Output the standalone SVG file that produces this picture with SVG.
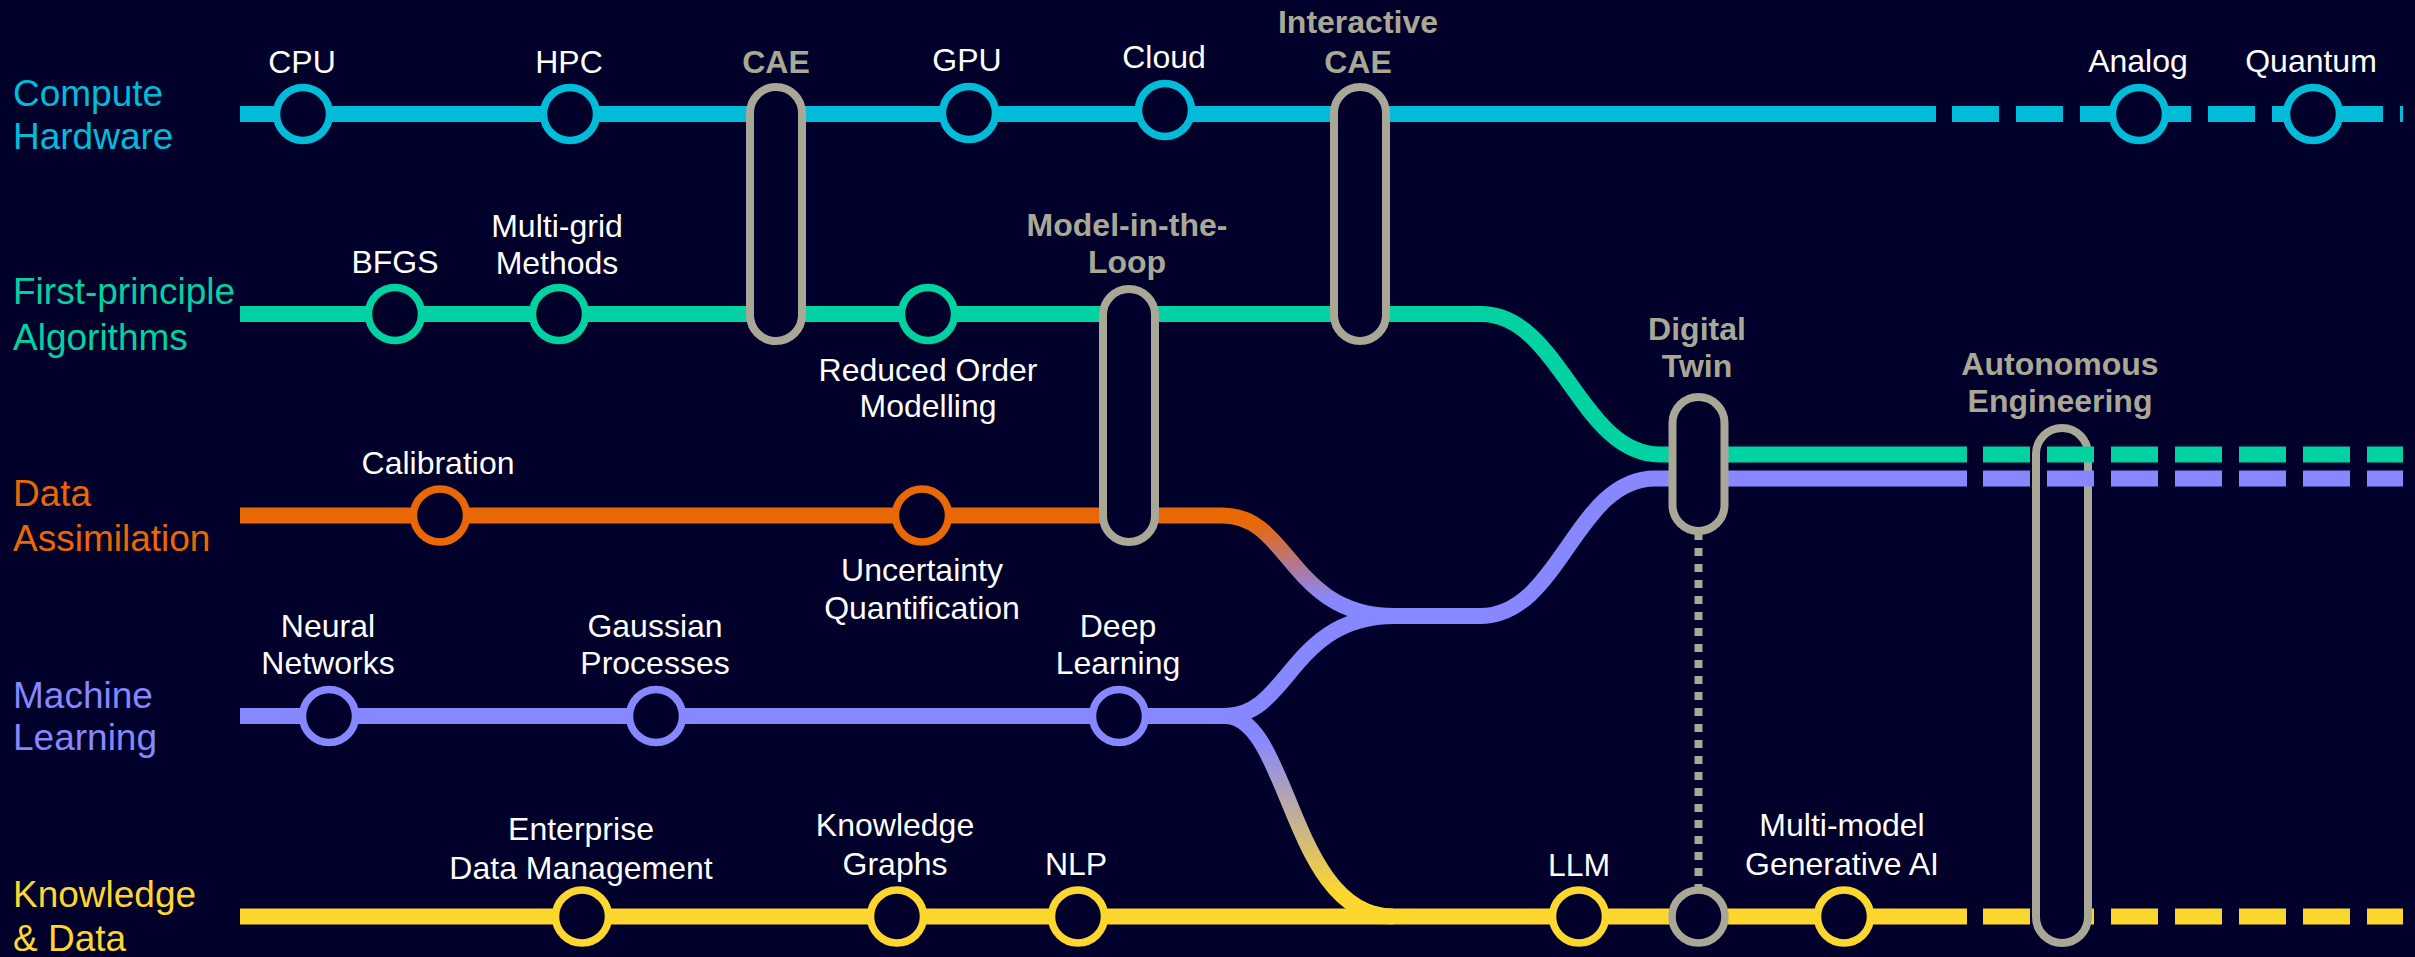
<svg xmlns="http://www.w3.org/2000/svg" width="2415" height="957" viewBox="0 0 2415 957">
  <defs>
    <!-- Data Assimilation merging into Machine Learning -->
    <linearGradient id="gradOrangePurple" gradientUnits="userSpaceOnUse" x1="0" y1="522" x2="0" y2="600">
      <stop offset="0" stop-color="#EA6705"/>
      <stop offset="1" stop-color="#8787FF"/>
    </linearGradient>
    <!-- Machine Learning branching into Knowledge & Data -->
    <linearGradient id="gradPurpleYellow" gradientUnits="userSpaceOnUse" x1="0" y1="740" x2="0" y2="895">
      <stop offset="0" stop-color="#8787FF"/>
      <stop offset="1" stop-color="#FDD72E"/>
    </linearGradient>
    <style>
      .track { fill: none; stroke-width: 16; }
      .future { stroke-dasharray: 47 17; }
      .cyan { stroke: #00BCD9; }
      .green { stroke: #00D3A1; }
      .orange { stroke: #EA6705; }
      .purple { stroke: #8787FF; }
      .yellow { stroke: #FDD72E; }
      .stop { fill: #00002A; stroke-width: 7.5; }
      .hub { fill: #00002A; stroke: #A9A896; stroke-width: 8; }
      .link { fill: none; stroke: #A9A896; stroke-width: 8; stroke-dasharray: 8 8; }
      text { font-family: "Liberation Sans", Arial, sans-serif; }
      .title { font-size: 37px; }
      .lbl { font-size: 32px; fill: #FFFFFF; text-anchor: middle; }
      .hubl { font-size: 32px; font-weight: bold; fill: #A9A896; text-anchor: middle; }
    </style>
  </defs>

  <rect x="0" y="0" width="2415" height="957" fill="#00002A"/>

  <!-- track titles -->
  <g id="titles">
    <text class="title" x="13" y="106" fill="#00BCD9">Compute<tspan x="13" y="149">Hardware</tspan></text>
    <text class="title" x="13" y="304" fill="#00D3A1">First-principle<tspan x="13" y="350">Algorithms</tspan></text>
    <text class="title" x="13" y="506" fill="#EA6705">Data<tspan x="13" y="551">Assimilation</tspan></text>
    <text class="title" x="13" y="708" fill="#8787FF">Machine<tspan x="13" y="750">Learning</tspan></text>
    <text class="title" x="13" y="907" fill="#FDD72E">Knowledge<tspan x="13" y="951">&amp; Data</tspan></text>
  </g>

  <!-- tracks -->
  <g id="connectors">
    <path class="track cyan" d="M240,114 H1936"/>
    <path class="track cyan future" d="M1952,114 H2403"/>
    <path class="track green" d="M240,314 H1481 C1560,314 1580,454.5 1660,454.5 H1967"/>
    <path class="track" stroke="url(#gradOrangePurple)" d="M240,515.5 H1223 C1290,515.5 1290,616 1395,616"/>
    <path class="track purple" d="M240,716 H1225 C1290,716 1290,616 1395,616 H1480 C1560,616 1575,478.5 1655,478.5 H1967"/>
    <path class="track" stroke="url(#gradPurpleYellow)" d="M1225,716 C1290,716 1290,916.5 1393,916.5"/>
    <path class="track yellow" d="M240,916.5 H1967"/>
    <path class="track yellow future" d="M1983,916.5 H2403"/>
    <path class="link" d="M1698.5,532 V888"/>
  </g>

  <!-- Compute Hardware stops -->
  <g id="cpu"><circle class="stop cyan" cx="303" cy="114" r="26.5"/><text class="lbl" x="302" y="73">CPU</text></g>
  <g id="hpc"><circle class="stop cyan" cx="570" cy="114" r="26.5"/><text class="lbl" x="569" y="73">HPC</text></g>
  <g id="gpu"><circle class="stop cyan" cx="969" cy="113" r="26.5"/><text class="lbl" x="967" y="71">GPU</text></g>
  <g id="cloud"><circle class="stop cyan" cx="1165" cy="110" r="26.5"/><text class="lbl" x="1164" y="68">Cloud</text></g>
  <g id="analog"><circle class="stop cyan" cx="2139" cy="114" r="26.5"/><text class="lbl" x="2138" y="72">Analog</text></g>
  <g id="quantum"><circle class="stop cyan" cx="2313" cy="114" r="26.5"/><text class="lbl" x="2311" y="72">Quantum</text></g>

  <!-- First-principle Algorithms stops -->
  <g id="bfgs"><circle class="stop green" cx="395" cy="314" r="26.5"/><text class="lbl" x="395" y="273">BFGS</text></g>
  <g id="multigrid"><circle class="stop green" cx="559" cy="314" r="26.5"/><text class="lbl" x="557" y="237">Multi-grid<tspan x="557" y="274">Methods</tspan></text></g>
  <g id="rom"><circle class="stop green" cx="928" cy="314" r="26.5"/><text class="lbl" x="928" y="381">Reduced Order<tspan x="928" y="417">Modelling</tspan></text></g>

  <!-- Data Assimilation stops -->
  <g id="calibration"><circle class="stop orange" cx="440" cy="515.5" r="26.5"/><text class="lbl" x="438" y="474">Calibration</text></g>
  <g id="uq"><circle class="stop orange" cx="922" cy="515.5" r="26.5"/><text class="lbl" x="922" y="581">Uncertainty<tspan x="922" y="619">Quantification</tspan></text></g>

  <!-- Machine Learning stops -->
  <g id="nn"><circle class="stop purple" cx="329" cy="716" r="26.5"/><text class="lbl" x="328" y="637">Neural<tspan x="328" y="674">Networks</tspan></text></g>
  <g id="gp"><circle class="stop purple" cx="656" cy="716" r="26.5"/><text class="lbl" x="655" y="637">Gaussian<tspan x="655" y="674">Processes</tspan></text></g>
  <g id="dl"><circle class="stop purple" cx="1119" cy="716" r="26.5"/><text class="lbl" x="1118" y="637">Deep<tspan x="1118" y="674">Learning</tspan></text></g>

  <!-- Knowledge & Data stops -->
  <g id="edm"><circle class="stop yellow" cx="582" cy="916.5" r="26.5"/><text class="lbl" x="581" y="840">Enterprise<tspan x="581" y="879">Data Management</tspan></text></g>
  <g id="kg"><circle class="stop yellow" cx="897" cy="916.5" r="26.5"/><text class="lbl" x="895" y="836">Knowledge<tspan x="895" y="875">Graphs</tspan></text></g>
  <g id="nlp"><circle class="stop yellow" cx="1078" cy="916.5" r="26.5"/><text class="lbl" x="1076" y="875">NLP</text></g>
  <g id="llm"><circle class="stop yellow" cx="1579" cy="916.5" r="26.5"/><text class="lbl" x="1579" y="876">LLM</text></g>
  <g id="dt-stop"><circle class="stop" stroke="#A9A896" cx="1698.5" cy="916.5" r="26.5"/></g>
  <g id="genai"><circle class="stop yellow" cx="1844" cy="916.5" r="26.5"/><text class="lbl" x="1842" y="836">Multi-model<tspan x="1842" y="875">Generative AI</tspan></text></g>

  <!-- interchange hubs -->
  <g id="cae"><rect class="hub" x="750" y="87" width="52" height="254" rx="26"/><text class="hubl" x="776" y="73">CAE</text></g>
  <g id="interactive-cae"><rect class="hub" x="1334" y="87" width="52" height="254" rx="26"/><text class="hubl" x="1358" y="33">Interactive<tspan x="1358" y="73">CAE</tspan></text></g>
  <g id="model-in-the-loop"><rect class="hub" x="1103" y="289" width="52" height="253" rx="26"/><text class="hubl" x="1127" y="236">Model-in-the-<tspan x="1127" y="273">Loop</tspan></text></g>
  <g id="digital-twin"><rect class="hub" x="1672.5" y="397" width="52" height="134" rx="26"/><text class="hubl" x="1697" y="340">Digital<tspan x="1697" y="377">Twin</tspan></text></g>
  <g id="autonomous-engineering"><rect class="hub" x="2036" y="428" width="52" height="515" rx="26"/><text class="hubl" x="2060" y="375">Autonomous<tspan x="2060" y="412">Engineering</tspan></text></g>

  <!-- future extensions running across the last hub -->
  <g id="connectors-future">
    <path class="track green future" d="M1983,454.5 H2403"/>
    <path class="track purple future" d="M1983,478.5 H2403"/>
  </g>
</svg>
